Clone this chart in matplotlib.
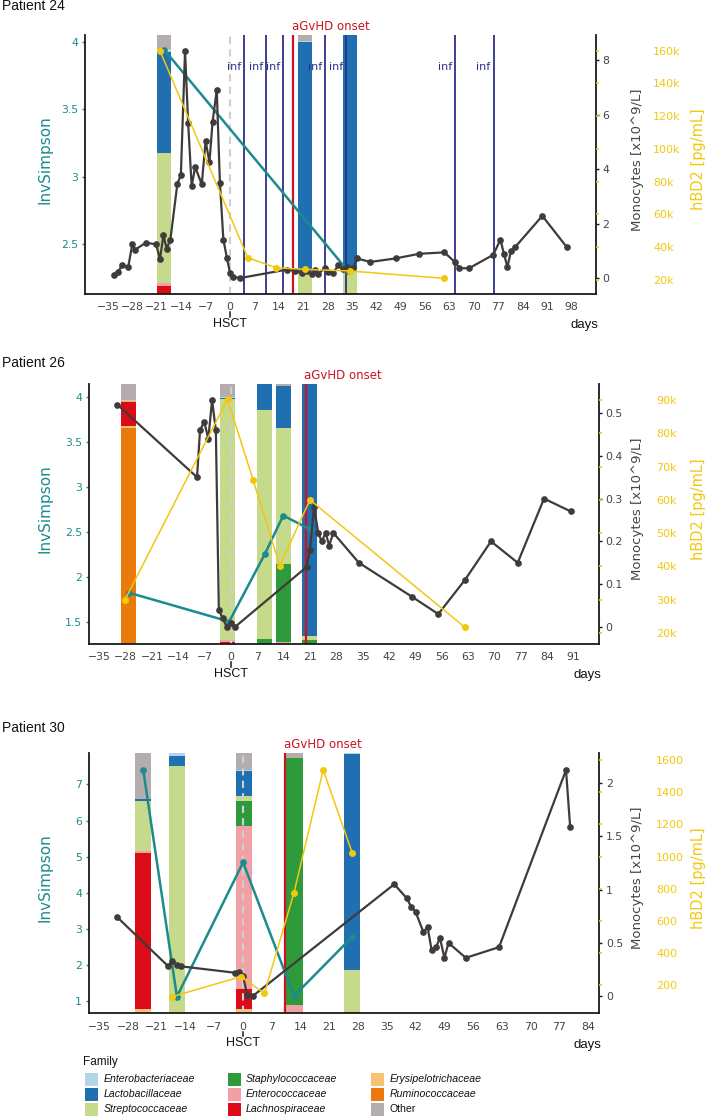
import matplotlib
matplotlib.use("Agg")
import matplotlib.pyplot as plt
from matplotlib.patches import Rectangle
from matplotlib.ticker import FuncFormatter, FormatStrFormatter

W, H = 709, 1117
TEAL = '#1b8b8e'
GOLD = '#f2c80f'
MONO = '#403b3b'
NAVY = '#2d3089'
RED = '#cd1223'
SANS = 'Liberation Sans'

# families (legend order) and their colours
families = ['Enterobacteriaceae', 'Lactobacillaceae', 'Streptococcaceae',
            'Staphylococcaceae', 'Enterococcaceae', 'Lachnospiraceae',
            'Erysipelotrichaceae', 'Ruminococcaceae', 'Other']
family_colors = ['#b4d4ea', '#1f6fb1', '#c6da8b', '#2f9a3b', '#f1a1a5',
                 '#dc0b18', '#f9c173', '#eb7a0d', '#b3adad']
# bars are stacked from the bottom in this order
stack_order = ['Ruminococcaceae', 'Erysipelotrichaceae', 'Lachnospiraceae',
               'Enterococcaceae', 'Staphylococcaceae', 'Streptococcaceae',
               'Lactobacillaceae', 'Enterobacteriaceae', 'Other']

# ---- Patient 24 ----
p24_bar_days = [-18.9, 21.4, 34.4]
p24_bar_comp = [
    [0, 0, 0.032, 0.009, 0, 0.502, 0.393, 0.009, 0.055],
    [0, 0, 0, 0, 0, 0.090, 0.882, 0.006, 0.022],
    [0, 0, 0, 0, 0, 0.095, 0.905, 0, 0],
]
p24_inv_days = [-18.8, 33.9]
p24_inv = [3.94, 2.30]
p24_hbd_days = [-20.1, 5.1, 13.2, 21.4, 34.4, 61.5]
p24_hbd = [160000, 33600, 27500, 26500, 25500, 21000]
p24_mono_days = [-33.2, -32.0, -31.1, -29.2, -28.0, -27.2, -24.1, -21.2, -20.1, -19.1,
                 -18.2, -17.1, -15.1, -14.1, -12.9, -12.0, -11.0, -10.0, -8.1, -7.0,
                 -5.9, -5.0, -3.8, -2.9, -1.9, -0.9, 0.0, 0.9, 2.9, 16.3,
                 18.6, 20.6, 22.0, 23.4, 24.4, 25.3, 27.2, 28.2, 29.6, 31.1,
                 32.4, 33.5, 34.4, 35.4, 36.3, 40.3, 47.5, 54.3, 61.5, 64.5,
                 65.8, 68.6, 75.5, 77.6, 78.6, 79.6, 80.6, 81.7, 89.6, 96.7]
p24_mono = [0.11, 0.23, 0.48, 0.42, 1.27, 1.05, 1.31, 1.24, 0.70, 1.58,
            1.09, 1.42, 3.47, 3.78, 8.34, 5.68, 3.38, 4.08, 3.45, 5.04,
            4.25, 5.74, 6.90, 3.51, 1.42, 0.76, 0.20, 0.05, 0.01, 0.32,
            0.27, 0.20, 0.27, 0.17, 0.32, 0.15, 0.39, 0.23, 0.20, 0.48,
            0.35, 0.42, 0.30, 0.36, 0.73, 0.60, 0.73, 0.90, 0.95, 0.60,
            0.37, 0.37, 0.86, 1.42, 0.88, 0.42, 1.00, 1.13, 2.29, 1.13]
p24_inf_days = [4.1, 10.2, 15.3, 27.2, 33.3, 64.5, 75.6]
p24_agvhd = 18.2

# ---- Patient 26 ----
p26_bar_days = [-27.1, -0.9, 9.05, 14.1, 20.9]
p26_bar_comp = [
    [0.830, 0.010, 0.091, 0.005, 0, 0.004, 0, 0, 0.060],
    [0, 0, 0.009, 0.006, 0, 0.927, 0.004, 0.003, 0.051],
    [0, 0, 0, 0, 0.019, 0.882, 0.099, 0, 0],
    [0, 0, 0, 0.009, 0.299, 0.522, 0.164, 0, 0.006],
    [0, 0, 0, 0, 0.015, 0.015, 0.970, 0, 0],
]
p26_inv_days = [-27.0, -0.45, 9.0, 13.9, 20.9]
p26_inv = [1.82, 1.50, 2.25, 2.68, 2.53]
p26_hbd_days = [-28.2, -0.9, 5.9, 13.0, 21.0, 62.2]
p26_hbd = [29800, 90300, 66000, 40200, 60000, 21600]
p26_mono_days = [-30.2, -9.0, -8.2, -7.1, -6.0, -5.0, -4.0, -3.2, -2.2, -1.1,
                 0.0, 1.1, 20.1, 21.0, 22.1, 23.2, 24.1, 25.2, 26.1, 27.2,
                 34.0, 48.2, 55.1, 62.2, 69.1, 76.2, 83.2, 90.3]
p26_mono = [0.52, 0.35, 0.46, 0.48, 0.44, 0.53, 0.46, 0.04, 0.02, 0.00,
            0.01, 0.00, 0.14, 0.18, 0.28, 0.22, 0.20, 0.22, 0.19, 0.22,
            0.15, 0.07, 0.03, 0.11, 0.20, 0.15, 0.30, 0.27]
p26_agvhd = 19.9

# ---- Patient 30 ----
p30_bar_days = [-24.3, -16.1, 0.2, 12.5, 26.5]
p30_bar_comp = [
    [0, 0.018, 0.599, 0.005, 0, 0.194, 0.006, 0, 0.178],
    [0, 0, 0, 0, 0, 0.949, 0.041, 0.010, 0],
    [0, 0.018, 0.077, 0.623, 0.099, 0.019, 0.094, 0.004, 0.066],
    [0, 0, 0, 0.031, 0.950, 0, 0, 0, 0.019],
    [0, 0, 0, 0, 0.004, 0.162, 0.830, 0.004, 0],
]
p30_inv_days = [-24.3, -16.1, 0.0, 12.4, 26.6]
p30_inv = [7.40, 1.12, 4.84, 1.14, 2.78]
p30_hbd_days = [-17.2, -0.5, 5.2, 12.4, 19.5, 26.6]
p30_hbd = [130, 254, 150, 776, 1538, 1020]
p30_mono_days = [-30.6, -18.2, -17.2, -16.1, -15.1, -1.9, -1.0, 0.0, 1.0, 2.3,
                 36.8, 39.8, 40.9, 42.0, 43.9, 44.9, 45.9, 47.0, 47.9, 49.0,
                 50.0, 54.2, 62.3, 78.6, 79.6]
p30_mono = [0.74, 0.28, 0.33, 0.29, 0.28, 0.22, 0.23, 0.19, 0.01, 0.00,
            1.05, 0.92, 0.84, 0.79, 0.60, 0.65, 0.43, 0.46, 0.55, 0.36,
            0.50, 0.36, 0.46, 2.12, 1.59]
p30_agvhd = 10.3

fig = plt.figure(figsize=(W / 100, H / 100), dpi=100)


def kfmt(v, p):
    return '%dk' % round(v / 1000)


def panel(box, title, title_y, xlim, xticks, inv_lim, inv_ticks, inv_fmt,
          mono_lim, mono_ticks, hbd_lim, hbd_ticks, hbd_fmt,
          bar_days, bar_comp, inv_days, inv, mono_days, mono,
          hbd_days, hbd, agvhd, inf_days=()):
    left, top, right, bottom = box
    ax = fig.add_axes([left / W, 1 - bottom / H, (right - left) / W, (bottom - top) / H])
    ax2 = ax.twinx()
    ax3 = ax.twinx()
    trans = ax.get_xaxis_transform()

    # stacked relative abundance bars, full height of the panel
    for day, comp in zip(bar_days, bar_comp):
        base = 0
        for fam, frac in zip(stack_order, comp):
            if frac > 0:
                ax.bar(day, frac, width=4, bottom=base, transform=trans,
                       color=family_colors[families.index(fam)], linewidth=0, zorder=1)
            base += frac

    ax.axvline(0, color='#cfcfcf', lw=1.5, ls=(0, (3.5, 2.5)), zorder=2)
    for d in inf_days:
        ax.axvline(d, color=NAVY, lw=1.3, zorder=2)
        ax.annotate('inf', xy=(d, 0.876), xycoords=trans, xytext=(-2, 0),
                    textcoords='offset points', ha='right', va='center',
                    color=NAVY, fontsize=8)
    ax.axvline(agvhd, color=RED, lw=1.6, zorder=2)
    ax.annotate('aGvHD onset', xy=(agvhd, 1.031), xycoords=trans, xytext=(-1, 0),
                textcoords='offset points', ha='left', va='center',
                color=RED, fontsize=8.5, annotation_clip=False)

    ax.plot(inv_days, inv, color=TEAL, lw=1.8, marker='o', ms=3.8, zorder=3)
    ax2.plot(mono_days, mono, color=MONO, lw=1.6, marker='o', ms=3.8, zorder=3)
    ax3.plot(hbd_days, hbd, color=GOLD, lw=1.1, marker='o', ms=4, zorder=3)

    ax.set_xlim(xlim)
    ax.set_xticks(xticks)
    ax.set_ylim(inv_lim)
    ax.set_yticks(inv_ticks)
    ax.yaxis.set_major_formatter(FormatStrFormatter(inv_fmt))
    ax2.set_ylim(mono_lim)
    ax2.set_yticks(mono_ticks)
    ax2.yaxis.set_major_formatter(FormatStrFormatter('%g'))
    ax3.set_ylim(hbd_lim)
    ax3.set_yticks(hbd_ticks)
    ax3.yaxis.set_major_formatter(hbd_fmt)

    for s in ['top', 'right']:
        ax.spines[s].set_visible(False)
    for s in ['top', 'left', 'bottom']:
        ax2.spines[s].set_visible(False)
        ax3.spines[s].set_visible(False)
    ax3.spines['right'].set_visible(False)
    for sp in [ax.spines['left'], ax.spines['bottom'], ax2.spines['right']]:
        sp.set_linewidth(1.3)
        sp.set_color('#1a1a1a')

    ax.tick_params(axis='x', length=0, pad=6, labelsize=7.8, labelcolor='#444444')
    ax.tick_params(axis='y', length=2.5, width=1, pad=2.5, color=TEAL,
                   labelsize=7.8, labelcolor=TEAL)
    ax2.tick_params(axis='y', length=2.2, width=1, pad=2.5, color='#1a1a1a',
                    labelsize=7.8, labelcolor='#444444')
    ax3.tick_params(axis='y', length=2, width=1.2, pad=39, color=GOLD,
                    labelsize=8, labelcolor=GOLD)

    # axis titles, centred on the given x pixel column
    ax.set_ylabel('InvSimpson', color=TEAL, fontsize=11)
    ax.yaxis.set_label_coords((45 - left) / (right - left), 0.52)
    ax2.set_ylabel('Monocytes [x10^9/L]', color='#444444', fontsize=9.5)
    ax2.yaxis.set_label_coords((638 - left) / (right - left), 0.52)
    ax3.set_ylabel('hBD2 [pg/mL]', color=GOLD, fontsize=10.5)
    ax3.yaxis.set_label_coords((699 - left) / (right - left), 0.52)
    for a in (ax, ax2, ax3):
        a.yaxis.label.set_verticalalignment('center')

    # HSCT marker under the day 0 label
    ax.plot([0, 0], [-0.07, -0.088], transform=trans, color='#1a1a1a', lw=1.1, clip_on=False)
    ax.text(0, -0.115, 'HSCT', transform=trans, ha='center', va='center',
            fontsize=9, family=SANS, color='#111111')
    ax.text(1.005, -0.12, 'days', transform=ax.transAxes, ha='right', va='center',
            fontsize=9.5, family=SANS, color='#111111')
    fig.text(2 / W, 1 - title_y / H, title, ha='left', va='center',
             fontsize=10, family=SANS, color='#111111')


panel((85, 35, 596, 294), 'Patient 24', 6, (-41.6, 105), range(-35, 99, 7),
      (2.131, 4.052), [2.5, 3, 3.5, 4], '%g',
      (-0.575, 8.92), [0, 2, 4, 6, 8],
      (11450, 169600), range(20000, 160001, 20000), FuncFormatter(kfmt),
      p24_bar_days, p24_bar_comp, p24_inv_days, p24_inv,
      p24_mono_days, p24_mono, p24_hbd_days, p24_hbd, p24_agvhd, p24_inf_days)

panel((89, 384, 599, 644), 'Patient 26', 363, (-37.7, 97.8), range(-35, 92, 7),
      (1.25, 4.145), [1.5, 2, 2.5, 3, 3.5, 4], '%g',
      (-0.04, 0.568), [0, 0.1, 0.2, 0.3, 0.4, 0.5],
      (16600, 94900), range(20000, 90001, 10000), FuncFormatter(kfmt),
      p26_bar_days, p26_bar_comp, p26_inv_days, p26_inv,
      p26_mono_days, p26_mono, p26_hbd_days, p26_hbd, p26_agvhd)

panel((89, 753, 599.3, 1013.3), 'Patient 30', 728, (-37.5, 86.7), range(-35, 85, 7),
      (0.66, 7.87), [1, 2, 3, 4, 5, 6, 7], '%g',
      (-0.16, 2.28), [0, 0.5, 1, 1.5, 2],
      (26, 1643), range(200, 1601, 200), FormatStrFormatter('%d'),
      p30_bar_days, p30_bar_comp, p30_inv_days, p30_inv,
      p30_mono_days, p30_mono, p30_hbd_days, p30_hbd, p30_agvhd)

# legend, drawn by hand in three columns
fig.text(83 / W, 1 - 1062 / H, 'Family', ha='left', va='center',
         fontsize=8.5, family=SANS, color='#111111')
leg_x = [85, 227.7, 371]
leg_y = [1079.3, 1094.3, 1109.3]
for i, (name, col) in enumerate(zip(families, family_colors)):
    cx = leg_x[i // 3]
    cy = leg_y[i % 3]
    fig.add_artist(Rectangle((cx / W, 1 - (cy + 6.7) / H), 13.3 / W, 13.3 / H,
                             transform=fig.transFigure, facecolor=col, linewidth=0))
    fig.text((cx + 18.3) / W, 1 - cy / H, name, ha='left', va='center',
             fontsize=7.6, family=SANS, color='#111111',
             style='normal' if name == 'Other' else 'italic')

fig.savefig('out.png', dpi=100)
